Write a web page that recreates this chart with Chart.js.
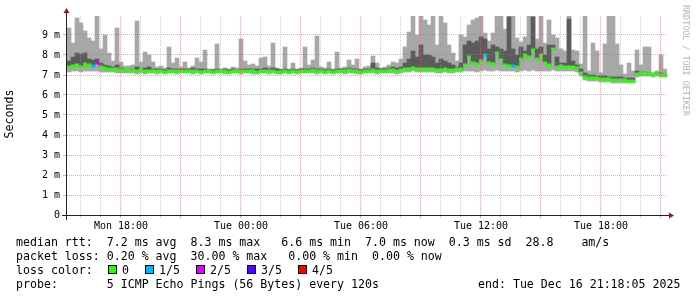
<!DOCTYPE html>
<html>
<head>
<meta charset="utf-8">
<script src="https://cdn.jsdelivr.net/npm/chart.js@4.4.1/dist/chart.umd.min.js"></script>
<style>
  body { margin: 0; background: #fff; }
  #wrap { position: relative; width: 697px; height: 297px; overflow: hidden; background: #fff; }
  #myChart { position: absolute; left: 0; top: 0; }
  .txt { position: absolute; font-family: 'DejaVu Sans Mono', monospace; font-size: 11.6px; line-height: 14px; white-space: pre; color: #000; }
  .sq { position: absolute; width: 7px; height: 7px; border: 1px solid #000; }
</style>
</head>
<body>
<div id="wrap">
  <canvas id="myChart" width="697" height="297"></canvas>
  <div class="txt" style="left:16px; top:235px">median rtt:  7.2 ms avg  8.3 ms max   6.6 ms min  7.0 ms now  0.3 ms sd  28.8    am/s</div>
  <div class="txt" style="left:16px; top:249px">packet loss: 0.20 % avg  30.00 % max   0.00 % min  0.00 % now</div>
  <div class="txt" id="lossRow" style="left:0; top:263px; width:697px; height:14px"></div>
  <div class="txt" style="left:16px; top:277px">probe:       5 ICMP Echo Pings (56 Bytes) every 120s</div>
  <div class="txt" style="left:478px; top:277px">end: Tue Dec 16 21:18:05 2025</div>
</div>
<script>
// 30 hours ending Tue Dec 16 21:18:05, hours counted from Mon 00:00
var startHour = 15 + 18 / 60 + 5 / 3600;
var stepHour = 0.2;

// smoke: slowest ping (max), upper inner ping, median, fastest ping (min) - in ms
var pingMax = [
  9.35, 8.6, 9.85, 9.6, 9.2, 8.85, 8.7, 10.0, 8.3, 9.0, 8.1, 7.7, 9.35, 7.65, 7.45,
  7.45, 7.5, 9.7, 7.65, 8.15, 8.0, 7.65, 7.4, 7.45, 7.35, 8.4, 7.6, 7.85, 7.4, 7.65,
  7.35, 7.45, 7.85, 7.65, 8.25, 7.3, 7.3, 8.55, 7.3, 7.35, 7.3, 7.4, 7.35, 8.8, 7.7,
  7.5, 7.55, 7.45, 7.85, 7.9, 7.45, 8.6, 7.35, 7.3, 8.4, 7.3, 7.6, 7.3, 7.35, 8.4,
  7.5, 7.75, 8.95, 7.4, 7.35, 7.65, 7.3, 8.15, 7.35, 7.4, 7.75, 7.5, 7.8, 7.3, 7.4,
  7.45, 7.95, 7.6, 7.35, 7.4, 7.5, 7.65, 7.6, 7.8, 8.4, 9.15, 10.2, 9.0, 10.2, 9.75,
  9.5, 10.2, 8.5, 10.1, 9.6, 8.5, 8.1, 7.7, 9.0, 8.9, 9.5, 9.75, 9.85, 10.2, 9.1,
  8.7, 9.1, 10.2, 10.2, 9.3, 10.2, 10.2, 8.85, 8.65, 8.9, 10.2, 10.2, 8.8, 10.2, 8.6,
  9.75, 9.0, 8.85, 8.3, 8.2, 10.2, 8.25, 8.2, 7.55, 10.2, 7.2, 8.6, 8.2, 7.1, 8.55,
  10.2, 10.2, 8.55, 7.5, 7.05, 7.6, 7.2, 8.25, 7.5, 8.4, 8.4, 7.1, 7.2, 8.0, 7.3
];
var pingUpper = [
  7.7, 7.9, 8.1, 8.05, 8.1, 7.8, 7.75, 7.8, 7.6, 7.5, 7.45, 7.4, 7.5, 7.35, 7.3,
  7.3, 7.3, 7.4, 7.3, 7.35, 7.4, 7.3, 7.3, 7.3, 7.25, 7.35, 7.3, 7.3, 7.3, 7.3,
  7.3, 7.35, 7.3, 7.3, 7.3, 7.25, 7.25, 7.3, 7.25, 7.3, 7.25, 7.3, 7.25, 7.3, 7.3,
  7.3, 7.3, 7.3, 7.3, 7.35, 7.3, 7.35, 7.3, 7.25, 7.3, 7.25, 7.3, 7.25, 7.3, 7.3,
  7.3, 7.35, 7.3, 7.3, 7.25, 7.3, 7.25, 7.3, 7.3, 7.3, 7.35, 7.3, 7.3, 7.25, 7.3,
  7.3, 7.6, 7.35, 7.3, 7.3, 7.35, 7.4, 7.35, 7.4, 7.6, 7.8, 8.2, 7.9, 8.5, 8.0,
  8.0, 7.9, 7.6, 7.8, 7.7, 7.6, 7.5, 7.4, 7.6, 8.5, 8.7, 8.6, 8.7, 8.9, 8.8,
  8.3, 8.5, 8.4, 8.3, 8.2, 9.9, 8.3, 8.0, 8.4, 8.2, 8.5, 9.9, 8.3, 8.4, 8.0,
  8.5, 8.5, 7.9, 7.6, 7.6, 9.8, 7.7, 7.5, 7.3, 7.1, 7.0, 7.0, 6.95, 6.95, 6.95,
  6.9, 6.9, 6.9, 6.9, 6.85, 6.85, 6.85, 7.2, 7.15, 7.15, 7.1, 7.05, 7.1, 7.1, 7.05
];
var median = [
  7.4, 7.45, 7.5, 7.4, 7.55, 7.5, 7.45, 7.6, 7.4, 7.35, 7.3, 7.3, 7.3, 7.25, 7.25,
  7.25, 7.25, 7.2, 7.25, 7.2, 7.2, 7.2, 7.2, 7.2, 7.15, 7.2, 7.2, 7.2, 7.2, 7.2,
  7.2, 7.2, 7.2, 7.15, 7.2, 7.2, 7.15, 7.2, 7.2, 7.2, 7.15, 7.2, 7.2, 7.2, 7.2,
  7.2, 7.2, 7.15, 7.2, 7.2, 7.2, 7.2, 7.15, 7.15, 7.2, 7.15, 7.2, 7.15, 7.2, 7.2,
  7.2, 7.25, 7.2, 7.2, 7.15, 7.2, 7.15, 7.2, 7.2, 7.2, 7.25, 7.2, 7.2, 7.15, 7.2,
  7.2, 7.25, 7.2, 7.2, 7.2, 7.25, 7.25, 7.2, 7.25, 7.3, 7.3, 7.35, 7.3, 7.3, 7.3,
  7.3, 7.3, 7.25, 7.25, 7.3, 7.25, 7.25, 7.3, 7.3, 7.5, 7.9, 7.6, 7.55, 7.7, 8.0,
  7.6, 7.55, 8.1, 7.75, 7.5, 7.45, 7.45, 7.4, 7.8, 8.0, 7.9, 8.25, 7.8, 8.0, 7.6,
  7.5, 8.3, 7.4, 7.45, 7.4, 7.4, 7.4, 7.35, 7.1, 6.9, 6.85, 6.85, 6.85, 6.8, 6.8,
  6.8, 6.75, 6.75, 6.75, 6.75, 6.7, 6.7, 7.05, 7.1, 7.1, 7.05, 7.05, 7.05, 7.0, 7.0
];
var pingMin = [
  7.15, 7.2, 7.2, 7.15, 7.2, 7.2, 7.2, 7.2, 7.15, 7.15, 7.15, 7.15, 7.1, 7.1, 7.1,
  7.1, 7.1, 7.05, 7.1, 7.05, 7.1, 7.1, 7.05, 7.1, 7.05, 7.1, 7.1, 7.05, 7.1, 7.1,
  7.1, 7.05, 7.1, 7.05, 7.1, 7.1, 7.05, 7.1, 7.1, 7.05, 7.05, 7.1, 7.1, 7.05, 7.1,
  7.1, 7.05, 7.05, 7.1, 7.1, 7.05, 7.1, 7.05, 7.05, 7.1, 7.05, 7.1, 7.05, 7.1, 7.1,
  7.1, 7.1, 7.05, 7.1, 7.05, 7.1, 7.05, 7.1, 7.1, 7.05, 7.1, 7.1, 7.05, 7.05, 7.1,
  7.1, 7.1, 7.05, 7.1, 7.1, 7.1, 7.1, 7.05, 7.1, 7.15, 7.15, 7.2, 7.15, 7.15, 7.15,
  7.15, 7.15, 7.1, 7.1, 7.15, 7.1, 7.1, 7.15, 7.15, 7.2, 7.2, 7.2, 7.15, 7.2, 7.25,
  7.2, 7.2, 7.25, 7.2, 7.2, 7.2, 7.2, 7.15, 7.2, 7.25, 7.2, 7.25, 7.2, 7.2, 7.2,
  7.2, 7.25, 7.2, 7.2, 7.2, 7.2, 7.2, 7.15, 6.95, 6.75, 6.7, 6.7, 6.7, 6.65, 6.65,
  6.65, 6.6, 6.6, 6.6, 6.6, 6.6, 6.6, 6.9, 6.95, 6.95, 6.95, 6.9, 6.95, 6.9, 6.9
];
// lost pings out of 5 per step
var lost = [
  0, 0, 0, 0, 0, 0, 1, 2, 0, 0, 0, 0, 0, 0, 0,
  0, 0, 0, 0, 0, 0, 0, 0, 0, 0, 0, 0, 0, 0, 0,
  0, 0, 0, 0, 0, 0, 0, 0, 0, 0, 0, 0, 0, 0, 0,
  0, 0, 0, 0, 0, 0, 0, 0, 0, 0, 0, 0, 0, 0, 0,
  0, 0, 0, 0, 0, 0, 0, 0, 0, 0, 0, 0, 0, 0, 0,
  0, 0, 0, 0, 0, 0, 0, 0, 0, 0, 0, 0, 0, 0, 0,
  0, 0, 0, 0, 0, 0, 0, 0, 0, 0, 0, 0, 0, 0, 1,
  0, 0, 0, 0, 0, 0, 1, 0, 0, 0, 0, 0, 0, 0, 0,
  0, 0, 0, 0, 0, 0, 0, 0, 0, 0, 0, 0, 0, 0, 0,
  0, 0, 0, 0, 0, 0, 0, 0, 0, 0, 0, 0, 0, 0, 0
];

var lossLabels = ['0', '1/5', '2/5', '3/5', '4/5'];
var lossColors = ['#26ff00', '#00b8ff', '#dd00ff', '#5500ff', '#ff0000'];
var yTicks = [0, 0.5, 1, 1.5, 2, 2.5, 3, 3.5, 4, 4.5, 5, 5.5, 6, 6.5, 7, 7.5, 8, 8.5, 9, 9.5];
var xTickHours = [16, 17, 18, 19, 20, 21, 22, 23, 24, 25, 26, 27, 28, 29, 30, 31, 32, 33, 34, 35, 36, 37, 38, 39, 40, 41, 42, 43, 44, 45];
var dayNames = ['Mon', 'Tue'];

// legend row with loss colours
var lossSqX = [108, 145, 196, 247, 298];
var lossTxtX = [122, 159, 210, 261, 312];
var row = document.getElementById('lossRow');
var html = '<span style="position:absolute;left:16px;top:0">loss color:</span>';
for (var k = 0; k < lossLabels.length; k++) {
    html += '<span class="sq" style="left:' + lossSqX[k] + 'px;top:2px;background:' + lossColors[k] + '"></span>';
    html += '<span style="position:absolute;left:' + lossTxtX[k] + 'px;top:0">' + lossLabels[k] + '</span>';
}
row.innerHTML = html;

function tx(i) { return startHour + stepHour * (i + 0.5); }

var outer = pingMax.map(function (v, i) { return { x: tx(i), y: [pingMin[i], v] }; });
var inner = pingUpper.map(function (v, i) { return { x: tx(i), y: [median[i], v] }; });
var mid = median.map(function (v, i) { return { x: tx(i), y: v }; });

var gridMajor = 'rgba(200, 110, 110, 0.55)';
var gridMinor = 'rgba(160, 160, 160, 0.5)';

var decor = {
    id: 'decor',
    afterDraw: function (chart) {
        var c = chart.ctx, a = chart.chartArea;
        c.save();
        c.strokeStyle = '#222';
        c.lineWidth = 1;
        c.beginPath();
        c.moveTo(a.left - 0.5, a.bottom + 5);
        c.lineTo(a.left - 0.5, a.top - 3);
        c.moveTo(a.left - 5, a.bottom + 0.5);
        c.lineTo(a.right + 3, a.bottom + 0.5);
        c.stroke();
        c.fillStyle = '#a01818';
        c.beginPath();
        c.moveTo(a.left - 3.5, a.top - 3);
        c.lineTo(a.left + 2.5, a.top - 3);
        c.lineTo(a.left - 0.5, a.top - 8);
        c.closePath();
        c.fill();
        c.beginPath();
        c.moveTo(a.right + 2, a.bottom - 2.5);
        c.lineTo(a.right + 2, a.bottom + 3.5);
        c.lineTo(a.right + 7, a.bottom + 0.5);
        c.closePath();
        c.fill();

        c.font = '11.6px "DejaVu Sans Mono"';
        c.fillStyle = '#000';
        c.textAlign = 'center';
        c.textBaseline = 'middle';
        c.save();
        c.translate(10, 114);
        c.rotate(-Math.PI / 2);
        c.fillText('Seconds', 0, 0);
        c.restore();

        c.font = '8.4px "DejaVu Sans Mono"';
        c.fillStyle = '#b4b4b4';
        c.textAlign = 'left';
        c.translate(685, 5);
        c.rotate(Math.PI / 2);
        c.fillText('RRDTOOL / TOBI OETIKER', 0, 0);
        c.restore();
    }
};

var ctx = document.getElementById('myChart').getContext('2d');
var chart = new Chart(ctx, {
    type: 'bar',
    data: {
        datasets: [{
            type: 'line',
            data: mid,
            showLine: false,
            pointStyle: 'line',
            pointRadius: 2,
            pointBorderWidth: 3,
            pointBorderColor: function (c) { return lossColors[lost[c.dataIndex]] || lossColors[0]; },
            order: 0
        }, {
            data: inner,
            backgroundColor: '#5c5c5c',
            borderWidth: 0,
            grouped: false,
            barPercentage: 1,
            categoryPercentage: 1,
            order: 1
        }, {
            data: outer,
            backgroundColor: '#a8a8a8',
            borderWidth: 0,
            grouped: false,
            barPercentage: 1,
            categoryPercentage: 1,
            order: 2
        }]
    },
    options: {
        responsive: false,
        animation: false,
        events: [],
        layout: { padding: { top: 16, right: 30, left: 0, bottom: 0 } },
        plugins: { legend: { display: false }, tooltip: { enabled: false } },
        scales: {
            x: {
                type: 'linear',
                offset: false,
                min: startHour,
                max: startHour + 30,
                afterBuildTicks: function (s) {
                    s.ticks = xTickHours.map(function (h) { return { value: h }; });
                },
                afterFit: function (s) { s.height = 82; },
                grid: {
                    offset: false,
                    z: 1,
                    tickLength: 3,
                    color: function (c) { return c.tick && c.tick.value % 3 === 0 ? gridMajor : gridMinor; },
                    tickColor: function (c) { return c.tick && c.tick.value % 3 === 0 ? gridMajor : gridMinor; }
                },
                border: { display: false, dash: [1, 1] },
                ticks: {
                    autoSkip: false,
                    maxRotation: 0,
                    padding: 2,
                    color: '#000',
                    font: { family: 'DejaVu Sans Mono', size: 10 },
                    callback: function (v) {
                        if (v % 6 !== 0) return '';
                        var hh = v % 24;
                        return dayNames[Math.floor(v / 24)] + ' ' + (hh < 10 ? '0' : '') + hh + ':00';
                    }
                }
            },
            y: {
                min: 0,
                max: 9.95,
                afterBuildTicks: function (s) {
                    s.ticks = yTicks.map(function (v) { return { value: v }; });
                },
                afterFit: function (s) { s.width = 67; },
                grid: {
                    z: 1,
                    tickLength: 4,
                    color: function (c) { return c.tick && Number.isInteger(c.tick.value) ? gridMajor : gridMinor; },
                    tickColor: function (c) { return c.tick && Number.isInteger(c.tick.value) ? gridMajor : gridMinor; }
                },
                border: { display: false, dash: [1, 1] },
                ticks: {
                    padding: 3,
                    color: '#000',
                    font: { family: 'DejaVu Sans Mono', size: 10 },
                    callback: function (v) {
                        if (!Number.isInteger(v)) return '';
                        return v === 0 ? '0' : v + ' m';
                    }
                }
            }
        }
    },
    plugins: [decor]
});
</script>
</body>
</html>
